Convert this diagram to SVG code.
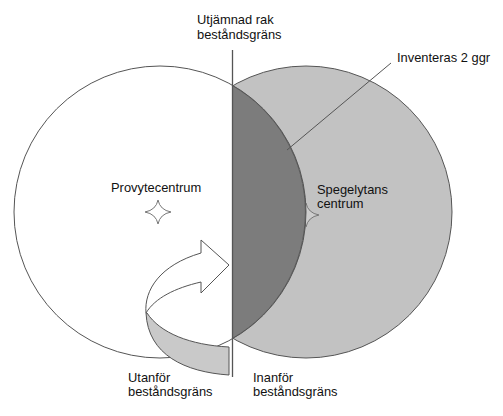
<svg xmlns="http://www.w3.org/2000/svg" width="503" height="416" viewBox="0 0 503 416">
<style>
text{font-family:"Liberation Sans",Arial,sans-serif;font-size:12.9px;fill:#111}
.outline{stroke:#555;stroke-width:1}
.star{fill:#fff;stroke:#777;stroke-width:1}
</style>
<defs>
<path id="star" d="M0,-12 Q2,-2 13,0 Q2,2 0,12 Q-2,2 -13,0 Q-2,-2 0,-12 Z"/>
</defs>
<rect width="503" height="416" fill="#fff"/>
<g id="spegelyta">
<circle class="outline" cx="306" cy="212" r="146" fill="#c2c2c2"/>
<use href="#star" class="star" x="306" y="215" style="fill:#cdcdcd"/>
</g>
<g id="provyta">
<circle class="outline" cx="160" cy="212" r="146" fill="#fff"/>
<use href="#star" class="star" x="158" y="212"/>
</g>
<g id="inventeras-2-ggr">
<path class="outline" d="M232.5,85.6 A146,146 0 0 1 232.5,338.4 Z" fill="#7c7c7c"/>
</g>
<g id="pil">
<path class="outline" d="M147,313 C160,333 190,345 229,347 L229,375 C185,372 148,355 146,313 Z" fill="#c9c9c9"/>
<path class="outline" d="M146,313 C144,290 160,265 201,253 L201,240 L229,265 L201,293 L201,282 C175,288 155,298 146,313 Z" fill="#fff"/>
</g>
<g id="connectors">
<line x1="232.5" y1="50" x2="232.5" y2="377" stroke="#555" stroke-width="1.3"/>
<line x1="287" y1="150" x2="391" y2="63" stroke="#555" stroke-width="1"/>
</g>
<g id="labels">
<text x="197" y="24">Utjämnad rak</text>
<text x="197" y="38.5">beståndsgräns</text>
<text x="397" y="62">Inventeras 2 ggr</text>
<text x="111" y="192">Provytecentrum</text>
<text x="317" y="194">Spegelytans</text>
<text x="317" y="208">centrum</text>
<text x="128" y="382">Utanför</text>
<text x="128" y="396">beståndsgräns</text>
<text x="253" y="382">Inanför</text>
<text x="253" y="396">beståndsgräns</text>
</g>
</svg>
